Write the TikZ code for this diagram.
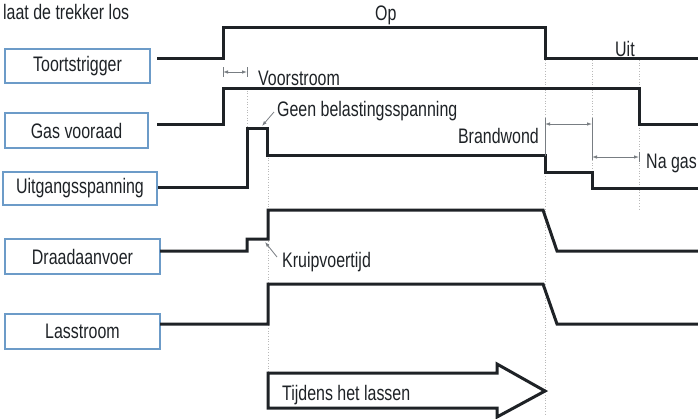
\documentclass[tikz,border=0pt]{standalone}
\usepackage{fontspec}
\setmainfont[FakeStretch=0.76]{Liberation Sans}
\usetikzlibrary{arrows.meta}
\definecolor{boxblue}{RGB}{108,155,200}
\definecolor{sig}{RGB}{30,34,38}
\definecolor{dimc}{RGB}{120,125,130}
\definecolor{guidec}{RGB}{185,185,185}
\begin{document}
\begin{tikzpicture}[x=1pt,y=-1pt,
  txt/.style={font=\fontsize{21}{23}\selectfont, text=sig, inner sep=0pt},
  sigbox/.style={draw=boxblue, line width=2pt, fill=white, font=\fontsize{21}{23}\selectfont, text=sig, inner sep=0pt},
  signal/.style={draw=sig, line width=3pt, line join=miter},
  guide/.style={draw=guidec, dotted, line width=0.7pt},
  dimline/.style={draw=dimc, line width=0.8pt, {Latex[length=5pt,width=3.5pt]}-{Latex[length=5pt,width=3.5pt]}},
  tick/.style={draw=dimc, line width=0.8pt},
  leader/.style={draw=dimc, line width=0.8pt, -{Latex[length=5pt,width=3.5pt]}}]
\useasboundingbox (0,0) rectangle (698,418);

% guide lines
\draw[guide] (247,88) -- (247,128);
\draw[guide] (268,155) -- (268,372);
\draw[guide] (545,60) -- (545,415);
\draw[guide] (592,60) -- (592,188);
\draw[guide] (639,60) -- (639,210);

% boxes
\node[sigbox, minimum width=145pt, minimum height=34pt] (b1) at (77.5,66) {Toortstrigger};
\node[sigbox, minimum width=143pt, minimum height=35pt] (b2) at (76.5,130.5) {Gas vooraad};
\node[sigbox, minimum width=154pt, minimum height=33pt] (b3) at (80,188.5) {Uitgangsspanning};
\node[sigbox, minimum width=155pt, minimum height=35pt] (b4) at (82.5,256.5) {Draadaanvoer};
\node[sigbox, minimum width=155pt, minimum height=35pt] (b5) at (82.5,331.5) {Lasstroom};

% signals
\draw[signal] (157,58) -- (223,58) -- (223,27) -- (545,27) -- (545,58) -- (698,58);
\draw[signal] (157,124) -- (223,124) -- (223,88) -- (639,88) -- (639,124) -- (698,124);
\draw[signal] (158,187) -- (247,187) -- (247,128) -- (267,128) -- (267,155) -- (545,155) -- (545,172) -- (592,172) -- (592,188) -- (698,188);
\draw[signal] (160,251) -- (247,251) -- (247,239) -- (268,239) -- (268,210) -- (543,210) -- (557,251) -- (698,251);
\draw[signal] (160,324) -- (268,324) -- (268,284) -- (543,284) -- (557,324) -- (698,324);

% big arrow
\draw[draw=sig, line width=3pt, line join=miter, fill=white]
  (268,373) -- (497,373) -- (497,364) -- (545,391) -- (497,417) -- (497,408) -- (268,408) -- cycle;
\node[txt, anchor=base west] (t9) at (282,400) {Tijdens het lassen};

% dimensions
\draw[tick] (223,67) -- (223,77);
\draw[tick] (247,67) -- (247,77);
\draw[dimline] (223,72) -- (247,72);
\node[txt, anchor=base west] (t3) at (258,85) {Voorstroom};

\draw[tick] (545,118) -- (545,156);
\draw[tick] (592,118) -- (592,160);
\draw[dimline] (545,124) -- (592,124);
\node[txt, anchor=base east] (t5) at (539,143) {Brandwond};

\draw[tick] (639,152) -- (639,162);
\draw[dimline] (592,157) -- (639,157);
\node[txt, anchor=base east] (t6) at (697,168) {Na gas};

% labels
\node[txt, anchor=base west] (t0) at (3,19) {laat de trekker los};
\node[txt, anchor=base west] (t1) at (375,20) {Op};
\node[txt, anchor=base west] (t2) at (615,56) {Uit};
\node[txt, anchor=base west] (t4) at (277,116) {Geen belastingsspanning};
\coordinate (g1) at (274,112);
\coordinate (g2) at (262,126);
\draw[leader] (g1) -- (g2);
\node[txt, anchor=base west] (t7) at (282,267) {Kruipvoertijd};
\coordinate (k1) at (277,257);
\coordinate (k2) at (265,242);
\draw[leader] (k1) -- (k2);
\end{tikzpicture}
\end{document}
